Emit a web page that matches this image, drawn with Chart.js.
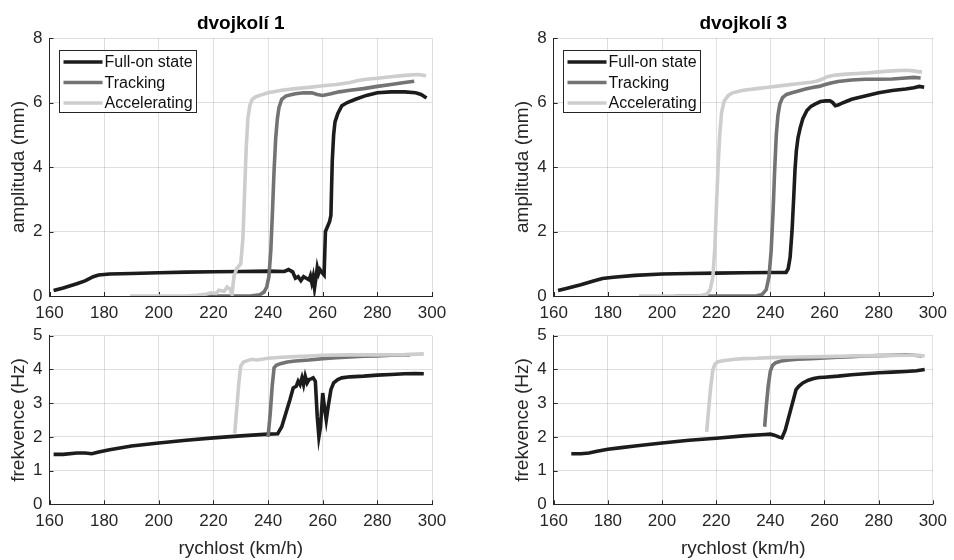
<!DOCTYPE html>
<html><head><meta charset="utf-8">
<script src="https://cdn.jsdelivr.net/npm/chart.js@4/dist/chart.umd.min.js"></script>
<style>
html,body{margin:0;padding:0;background:#fff;}
#wrap{position:relative;width:954px;height:560px;background:#fff;}
canvas{position:absolute;left:0;top:0;}
</style></head><body>
<div id="wrap">
<canvas id="c1" width="954" height="560"></canvas>
<canvas id="c2" width="954" height="560"></canvas>
<canvas id="c3" width="954" height="560"></canvas>
<canvas id="c4" width="954" height="560"></canvas>
</div>
<script>
// ---- labels ----
const SERIES_NAMES = ['Full-on state', 'Tracking', 'Accelerating'];
const PANEL_TITLES = ['dvojkolí 1', 'dvojkolí 3'];
const X_TITLE = 'rychlost (km/h)';
const AMP_TITLE = 'amplituda (mm)';
const FREQ_TITLE = 'frekvence (Hz)';
const X_TICKS = [160, 180, 200, 220, 240, 260, 280, 300];
const AMP_TICKS = [0, 2, 4, 6, 8];
const FREQ_TICKS = [0, 1, 2, 3, 4, 5];

// ---- dvojkolí 1, amplituda ----
const tl_full_x = [161.5,165,170,173,176,178,182,190,200,210,220,230,240,246,247.5,249,250,251,252,253,254,255,255.5,256,256.5,257,257.5,258,258.5,259,260,260.5,261,261.5,262.5,263,263.5,264,264.5,265.5,267,269,272,276,280,285,290,294,296,298];
const tl_full_y = [0.17,0.25,0.38,0.47,0.6,0.65,0.68,0.7,0.72,0.74,0.75,0.76,0.77,0.76,0.82,0.75,0.55,0.6,0.48,0.6,0.55,0.5,0.62,0.42,0.6,0.25,0.55,0.88,0.7,0.82,0.7,0.65,2.0,2.1,2.3,2.5,4.2,5.0,5.4,5.65,5.9,6.0,6.1,6.22,6.3,6.33,6.33,6.3,6.25,6.14];
const tl_track_x = [214,220,225,230,234,237,238.5,239.5,240.3,241,241.6,242.2,242.8,243.4,244,245,246.5,248,250,253,256,258,260,263,266,270,275,280,285,290,293.5];
const tl_track_y = [0,0,0,0,0.01,0.04,0.12,0.28,0.6,1.4,2.6,3.9,4.9,5.5,5.85,6.1,6.2,6.23,6.27,6.3,6.3,6.25,6.22,6.27,6.33,6.38,6.43,6.5,6.56,6.62,6.66];
const tl_acc_x = [189.5,200,210,214,217,219,221,222,224,225,226,226.8,227.5,228.5,230,230.8,231.4,232,232.6,233.3,234.2,235.5,237,240,245,250,255,260,265,270,273,276,280,285,290,295,297.8];
const tl_acc_y = [0,0,0,0.02,0.05,0.1,0.08,0.18,0.15,0.28,0.22,0.05,0.6,0.85,1.0,1.8,3.2,4.6,5.5,5.9,6.1,6.18,6.22,6.3,6.38,6.43,6.47,6.52,6.56,6.62,6.68,6.72,6.75,6.8,6.84,6.87,6.83];

// ---- dvojkolí 3, amplituda ----
const tr_full_x = [161.6,165,170,175,178,182,190,200,210,220,230,240,245.8,246.6,247.3,248,248.6,249.1,249.6,250.2,251,252,253.5,255,256.5,258.5,260.5,262,263,264,265,266.5,268,270,275,280,285,290,293,295,296.8];
const tr_full_y = [0.17,0.24,0.35,0.47,0.54,0.58,0.64,0.68,0.7,0.71,0.72,0.73,0.73,0.85,1.2,2.0,3.0,3.9,4.5,4.9,5.2,5.5,5.75,5.88,5.95,6.03,6.05,6.05,6.0,5.9,5.92,5.98,6.03,6.1,6.2,6.3,6.37,6.42,6.46,6.5,6.47];
const tr_track_x = [205,210,220,230,235,237,238.5,239.5,240.3,241,241.6,242.2,242.8,243.5,244.5,246,248,250,253,256,258,260,262,265,270,275,280,285,290,293,295.5];
const tr_track_y = [0,0,0,0,0.01,0.05,0.2,0.6,1.4,2.6,3.9,5.0,5.6,5.95,6.15,6.25,6.3,6.35,6.42,6.47,6.5,6.55,6.6,6.65,6.7,6.72,6.72,6.73,6.76,6.78,6.76];
const tr_acc_x = [191.5,200,210,214,216.5,217.8,218.8,219.5,220.1,220.7,221.3,222,223,224.5,226,230,235,240,245,250,255,257,259,261,264,268,272,276,280,285,290,293,295,296];
const tr_acc_y = [0,0,0,0.01,0.05,0.2,0.6,1.5,2.8,4.0,5.0,5.7,6.05,6.22,6.3,6.38,6.43,6.48,6.53,6.58,6.63,6.66,6.72,6.8,6.85,6.88,6.9,6.92,6.95,6.98,7.0,6.98,6.95,6.95];

// ---- dvojkolí 1, frekvence ----
const bl_full_x = [161.5,165,170,173,175.5,178,182,190,200,210,220,230,240,243.5,245,246.5,248,249.2,250.3,251,251.7,252.4,253,253.6,254.3,255,255.7,256.5,257.3,258,258.6,259.2,260,260.6,261.3,262,263,264,265.5,267,270,275,280,285,290,294,297];
const bl_full_y = [1.48,1.48,1.52,1.52,1.5,1.55,1.62,1.73,1.82,1.9,1.97,2.03,2.08,2.09,2.3,2.7,3.1,3.45,3.5,3.65,3.55,3.75,3.55,3.8,3.6,3.7,3.72,3.75,3.65,2.6,2.0,2.3,3.3,2.9,2.5,2.9,3.4,3.6,3.7,3.75,3.78,3.8,3.83,3.85,3.87,3.88,3.87];
const bl_track_x = [240,240.8,241.5,242.2,243,244.5,247,250,255,260,265,270,275,280,285,290,292];
const bl_track_y = [2.0,2.7,3.5,4.05,4.12,4.17,4.22,4.25,4.28,4.32,4.35,4.37,4.39,4.4,4.42,4.43,4.43];
const bl_acc_x = [227.8,228.5,229.3,230,231,232.5,234,236,240,245,250,255,260,270,280,290,297];
const bl_acc_y = [2.1,2.8,3.6,4.1,4.22,4.26,4.3,4.28,4.33,4.36,4.38,4.4,4.42,4.43,4.43,4.44,4.46];

// ---- dvojkolí 3, frekvence ----
const br_full_x = [166.5,170,173,176,180,185,190,200,210,220,230,238,240,241.5,243,244.3,245.5,246.5,247.5,248.5,249.5,250.5,252,254,256,258,260,265,270,275,280,285,290,294,297];
const br_full_y = [1.5,1.5,1.52,1.57,1.63,1.68,1.73,1.82,1.9,1.96,2.03,2.07,2.08,2.05,2.0,1.97,2.2,2.5,2.8,3.1,3.4,3.5,3.6,3.68,3.73,3.76,3.77,3.8,3.84,3.87,3.9,3.92,3.94,3.96,4.0];
const br_track_x = [237.9,238.5,239.2,240,240.8,242,244,247,250,255,260,265,270,275,280,285,290,293,296];
const br_track_y = [2.3,2.9,3.5,3.95,4.12,4.2,4.25,4.28,4.3,4.32,4.34,4.36,4.38,4.4,4.41,4.42,4.43,4.42,4.4];
const br_acc_x = [216.5,217.2,218,218.8,219.5,220.5,222,224,227,230,235,240,250,260,270,280,290,295,297];
const br_acc_y = [2.15,2.8,3.5,4.0,4.15,4.22,4.25,4.27,4.3,4.32,4.33,4.35,4.37,4.38,4.4,4.41,4.42,4.42,4.4];

// ---- styling ----
const FONT = '"Liberation Sans", Arial, Helvetica, sans-serif';
const COLORS = ['#1c1c1c', '#737373', '#cdcdcd'];
const AX = '#262626';
const GRID = 'rgba(38,38,38,0.15)';
const TICK_SIZE = 17, LABEL_SIZE = 19, TITLE_SIZE = 19, LEGEND_SIZE = 16;

function pts(xs, ys) { return xs.map((x, i) => ({x: x, y: ys[i]})); }

const decor = {
  id: 'decor',
  beforeDatasetsDraw(chart) {
    const ctx = chart.ctx, a = chart.chartArea;
    const xs = chart.scales.x, ys = chart.scales.y;
    ctx.save();
    ctx.strokeStyle = AX; ctx.lineWidth = 1;
    ctx.beginPath();
    xs.ticks.forEach(t => { const p = Math.round(xs.getPixelForValue(t.value)) + 0.5; ctx.moveTo(p, a.bottom); ctx.lineTo(p, a.bottom - 4); });
    ys.ticks.forEach(t => { const p = Math.round(ys.getPixelForValue(t.value)) + 0.5; ctx.moveTo(a.left, p); ctx.lineTo(a.left + 4, p); });
    ctx.stroke();
    ctx.restore();
  },
  afterDraw(chart, args, o) {
    const ctx = chart.ctx, a = chart.chartArea;
    ctx.save();
    if (o.title) {
      ctx.fillStyle = '#000';
      ctx.font = 'bold ' + TITLE_SIZE + 'px ' + FONT;
      ctx.textAlign = 'center'; ctx.textBaseline = 'alphabetic';
      ctx.fillText(o.title, (a.left + a.right) / 2, a.top - 9);
    }
    if (o.legend) {
      const bx = Math.round(a.left + 9.5) + 0.5, by = Math.round(a.top + 12) + 0.5, bw = 137, bh = 62;
      ctx.fillStyle = '#fff';
      ctx.fillRect(bx, by, bw, bh);
      ctx.strokeStyle = AX; ctx.lineWidth = 1;
      ctx.strokeRect(bx, by, bw, bh);
      ctx.font = LEGEND_SIZE + 'px ' + FONT;
      ctx.textAlign = 'left'; ctx.textBaseline = 'middle';
      chart.data.datasets.forEach((d, i) => {
        const yy = by + 11.5 + i * 20.5;
        ctx.strokeStyle = d.borderColor; ctx.lineWidth = 3.5;
        ctx.beginPath(); ctx.moveTo(bx + 4, yy); ctx.lineTo(bx + 43, yy); ctx.stroke();
        ctx.fillStyle = '#111';
        ctx.fillText(d.label, bx + 45, yy + 1);
      });
    }
    ctx.restore();
  }
};

function makePanel(id, series, cfg) {
  const datasets = series.map((s, i) => ({
    label: SERIES_NAMES[i],
    data: pts(s[0], s[1]),
    borderColor: COLORS[i],
    backgroundColor: COLORS[i],
    borderWidth: 3.6,
    pointRadius: 0,
    tension: 0,
    fill: false,
    order: 3 - i
  }));
  const yW = 49.5;
  return new Chart(document.getElementById(id), {
    type: 'line',
    data: {datasets: datasets},
    plugins: [decor],
    options: {
      responsive: false, animation: false, devicePixelRatio: 1,
      layout: {padding: {left: cfg.left - yW, right: 954 - cfg.right, top: cfg.top, bottom: 560 - cfg.bottom - cfg.xH}},
      plugins: {legend: {display: false}, tooltip: {enabled: false},
        decor: {title: cfg.title, legend: cfg.legend}},
      scales: {
        x: {
          type: 'linear', min: 160, max: 300,
          afterBuildTicks: s => { s.ticks = X_TICKS.map(v => ({value: v})); },
          afterFit: s => { s.height = cfg.xH; },
          grid: {color: GRID, drawTicks: false, lineWidth: 1},
          border: {color: AX, width: 1},
          ticks: {color: AX, font: {family: FONT, size: TICK_SIZE}, padding: 7, maxRotation: 0, autoSkip: false},
          title: {display: !!cfg.xTitle, text: cfg.xTitle || '', color: AX, font: {family: FONT, size: LABEL_SIZE}, padding: {top: 0, bottom: 0}}
        },
        y: {
          type: 'linear', min: 0, max: cfg.yTicks[cfg.yTicks.length - 1],
          afterBuildTicks: s => { s.ticks = cfg.yTicks.map(v => ({value: v})); },
          afterFit: s => { s.width = yW; },
          grid: {color: GRID, drawTicks: false, lineWidth: 1},
          border: {color: AX, width: 1},
          ticks: {color: AX, font: {family: FONT, size: TICK_SIZE}, padding: 7},
          title: {display: true, text: cfg.yTitle, color: AX, font: {family: FONT, size: LABEL_SIZE}, padding: {top: 7, bottom: 0}}
        }
      }
    }
  });
}

makePanel('c1', [[tl_full_x, tl_full_y], [tl_track_x, tl_track_y], [tl_acc_x, tl_acc_y]],
  {left: 49.5, right: 432, top: 38, bottom: 296, xH: 30, yTicks: AMP_TICKS, yTitle: AMP_TITLE, title: PANEL_TITLES[0], legend: true});
makePanel('c2', [[tr_full_x, tr_full_y], [tr_track_x, tr_track_y], [tr_acc_x, tr_acc_y]],
  {left: 553.7, right: 936, top: 38, bottom: 296, xH: 30, yTicks: AMP_TICKS, yTitle: AMP_TITLE, title: PANEL_TITLES[1], legend: true});
makePanel('c3', [[bl_full_x, bl_full_y], [bl_track_x, bl_track_y], [bl_acc_x, bl_acc_y]],
  {left: 49.5, right: 432, top: 335.7, bottom: 504.3, xH: 55.7, yTicks: FREQ_TICKS, yTitle: FREQ_TITLE, xTitle: X_TITLE});
makePanel('c4', [[br_full_x, br_full_y], [br_track_x, br_track_y], [br_acc_x, br_acc_y]],
  {left: 553.7, right: 936, top: 335.7, bottom: 504.3, xH: 55.7, yTicks: FREQ_TICKS, yTitle: FREQ_TITLE, xTitle: X_TITLE});
</script>
</body></html>
